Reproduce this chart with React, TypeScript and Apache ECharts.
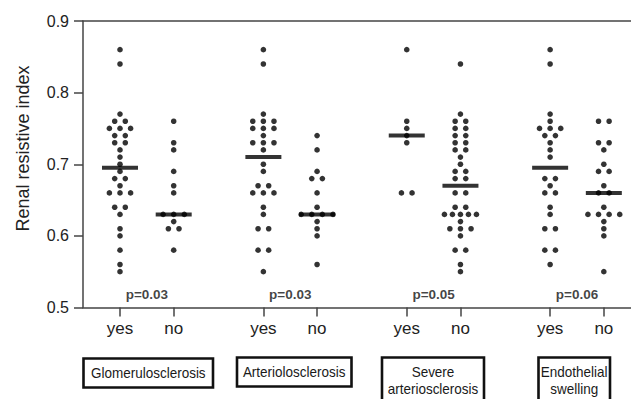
import React, { useEffect, useRef } from "react";
import * as echarts from "echarts";

// ---------- data ----------
const groupNames = ["Glomerulosclerosis", "Arteriolosclerosis", "Severe\narteriosclerosis", "Endothelial\nswelling"];
const subgroupLabels = ["yes", "no"];
const pValueLabels = ["p=0.03", "p=0.03", "p=0.05", "p=0.06"];
const yAxisTitle = "Renal resistive index";

const glomerulosclerosisYes = [0.86, 0.84, 0.77, 0.76, 0.76, 0.75, 0.75, 0.75, 0.74, 0.74, 0.73, 0.73, 0.72, 0.71, 0.70, 0.69, 0.68, 0.68, 0.67, 0.66, 0.66, 0.66, 0.64, 0.64, 0.63, 0.61, 0.60, 0.58, 0.56, 0.55];
const glomerulosclerosisNo = [0.76, 0.73, 0.72, 0.69, 0.67, 0.66, 0.63, 0.63, 0.63, 0.62, 0.61, 0.61, 0.58];
const arteriolosclerosisYes = [0.86, 0.84, 0.77, 0.76, 0.76, 0.76, 0.75, 0.75, 0.75, 0.74, 0.73, 0.73, 0.73, 0.72, 0.70, 0.69, 0.67, 0.67, 0.66, 0.66, 0.66, 0.64, 0.63, 0.61, 0.61, 0.58, 0.58, 0.55];
const arteriolosclerosisNo = [0.74, 0.72, 0.69, 0.68, 0.68, 0.66, 0.64, 0.63, 0.63, 0.63, 0.63, 0.62, 0.61, 0.60, 0.56];
const severeYes = [0.86, 0.76, 0.75, 0.74, 0.73, 0.66, 0.66];
const severeNo = [0.84, 0.77, 0.76, 0.76, 0.75, 0.75, 0.74, 0.74, 0.73, 0.73, 0.72, 0.72, 0.71, 0.70, 0.69, 0.69, 0.68, 0.68, 0.66, 0.66, 0.64, 0.64, 0.63, 0.63, 0.63, 0.63, 0.63, 0.62, 0.61, 0.61, 0.61, 0.60, 0.58, 0.58, 0.56, 0.55];
const endothelialYes = [0.86, 0.84, 0.77, 0.76, 0.75, 0.75, 0.75, 0.74, 0.74, 0.73, 0.72, 0.71, 0.68, 0.68, 0.67, 0.66, 0.66, 0.64, 0.63, 0.61, 0.61, 0.58, 0.58, 0.56];
const endothelialNo = [0.76, 0.76, 0.73, 0.73, 0.72, 0.70, 0.69, 0.69, 0.67, 0.66, 0.66, 0.64, 0.63, 0.63, 0.63, 0.63, 0.62, 0.61, 0.60, 0.55];

const seriesValues = [
  [glomerulosclerosisYes, glomerulosclerosisNo],
  [arteriolosclerosisYes, arteriolosclerosisNo],
  [severeYes, severeNo],
  [endothelialYes, endothelialNo],
];

// ---------- layout ----------
const FONT = "'Liberation Sans', Arial, Helvetica, sans-serif";
const GROUP_STEP = 2.67;
const X_MIN = -0.689;
const X_MAX = 9.516;
const Y_MIN = 0.5;
const Y_MAX = 0.9;
const DOT_GAP = 10.6;
const boxLayout = [
  { x: 83.5, y: 358.5, w: 129.5, h: 29, cx: 148.3, cy: 372.5 },
  { x: 237, y: 357.5, w: 114.5, h: 29, cx: 294.2, cy: 371.7 },
  { x: 382, y: 357.5, w: 102, h: 60, cx: 433, cy: 380.2 },
  { x: 538.5, y: 357.5, w: 71.5, h: 60, cx: 574.2, cy: 380.5 },
];

function median(arr: number[]) {
  const s = [...arr].sort((a, b) => a - b);
  const n = s.length;
  return n % 2 ? s[(n - 1) / 2] : (s[n / 2 - 1] + s[n / 2]) / 2;
}

function swarm(values: number[], xPos: number) {
  const counts: Record<string, number> = {};
  values.forEach((v) => {
    const k = v.toFixed(2);
    counts[k] = (counts[k] || 0) + 1;
  });
  const used: Record<string, number> = {};
  return values.map((v) => {
    const k = v.toFixed(2);
    const n = counts[k];
    const i = used[k] || 0;
    used[k] = i + 1;
    const gap = n <= 4 ? DOT_GAP : 32 / (n - 1);
    const dx = (i - (n - 1) / 2) * gap;
    return { value: [xPos, v], symbolOffset: [dx, 0] };
  });
}

export default function App() {
  const ref = useRef<HTMLDivElement>(null);
  useEffect(() => {
    document.body.style.margin = "0";
    if (!ref.current) return;
    const chart = echarts.init(ref.current, null, { renderer: "svg" });

    const tickValues: number[] = [];
    const series: any[] = [];
    seriesValues.forEach((pair, g) => {
      pair.forEach((vals, k) => {
        const xPos = g * GROUP_STEP + k;
        tickValues.push(xPos);
        series.push({
          type: "scatter",
          symbol: "circle",
          symbolSize: 5.6,
          itemStyle: { color: "#000" },
          data: swarm(vals, xPos),
          clip: false,
          z: 2,
        });
        series.push({
          type: "scatter",
          symbol: "rect",
          symbolSize: [36, 4],
          itemStyle: { color: "#000" },
          data: [[xPos, median(vals)]],
          clip: false,
          z: 3,
        });
      });
    });
    series.push({
      type: "scatter",
      symbolSize: 0,
      clip: false,
      data: pValueLabels.map((p, g) => ({ value: [g * GROUP_STEP + 0.5, Y_MIN], name: p })),
      label: {
        show: true,
        position: "inside",
        offset: [0, -13.5],
        formatter: (p: any) => p.name,
        fontFamily: FONT,
        fontWeight: "bold",
        fontSize: 13.5,
        color: "#111",
      },
      z: 4,
    });

    const labelFor = (v: number) => {
      const idx = tickValues.findIndex((t) => Math.abs(t - v) < 1e-6);
      return idx >= 0 ? subgroupLabels[idx % 2] : "";
    };

    const graphics: any[] = [
      {
        type: "text",
        x: 23,
        y: 148.5,
        rotation: Math.PI / 2,
        style: {
          text: yAxisTitle,
          font: `18px ${FONT}`,
          fill: "#222",
          textAlign: "center",
          textVerticalAlign: "middle",
        },
      },
    ];
    boxLayout.forEach((b, g) => {
      graphics.push({
        type: "rect",
        shape: { x: b.x, y: b.y, width: b.w, height: b.h },
        style: { fill: "#fff", stroke: "#111", lineWidth: 2.6 },
      });
      graphics.push({
        type: "text",
        x: b.cx,
        y: b.cy,
        scaleX: 0.9,
        style: {
          text: groupNames[g],
          font: `15px ${FONT}`,
          lineHeight: 16.8,
          fill: "#1a1a1a",
          textAlign: "center",
          textVerticalAlign: "middle",
        },
      });
    });

    chart.setOption({
      animation: false,
      backgroundColor: "#fff",
      grid: { left: 83, right: 0, top: 21, bottom: 91.5, containLabel: false },
      xAxis: [
        {
          type: "value",
          min: X_MIN,
          max: X_MAX,
          splitLine: { show: false },
          axisLine: { show: true, onZero: false, lineStyle: { color: "#444", width: 1.5 } },
          axisTick: { show: true, length: 9, customValues: tickValues, lineStyle: { color: "#444", width: 1.5 } },
          axisLabel: {
            show: true,
            customValues: tickValues,
            formatter: (v: number) => labelFor(v),
            margin: 12,
            fontFamily: FONT,
            fontSize: 17,
            color: "#222",
          },
        },
        {
          type: "value",
          position: "top",
          min: X_MIN,
          max: X_MAX,
          splitLine: { show: false },
          axisLine: { show: true, onZero: false, lineStyle: { color: "#444", width: 1.5 } },
          axisTick: { show: false },
          axisLabel: { show: false },
        },
      ],
      yAxis: {
        type: "value",
        min: Y_MIN,
        max: Y_MAX,
        interval: 0.1,
        splitLine: { show: false },
        axisLine: { show: true, onZero: false, lineStyle: { color: "#444", width: 1.5 } },
        axisTick: { show: true, length: 9, lineStyle: { color: "#444", width: 1.5 } },
        axisLabel: {
          margin: 14,
          fontFamily: FONT,
          fontSize: 16,
          color: "#222",
          formatter: (v: number) => v.toFixed(1),
        },
      },
      graphic: graphics,
      series,
    });
    return () => chart.dispose();
  }, []);
  return <div ref={ref} style={{ width: 631, height: 399 }} />;
}
